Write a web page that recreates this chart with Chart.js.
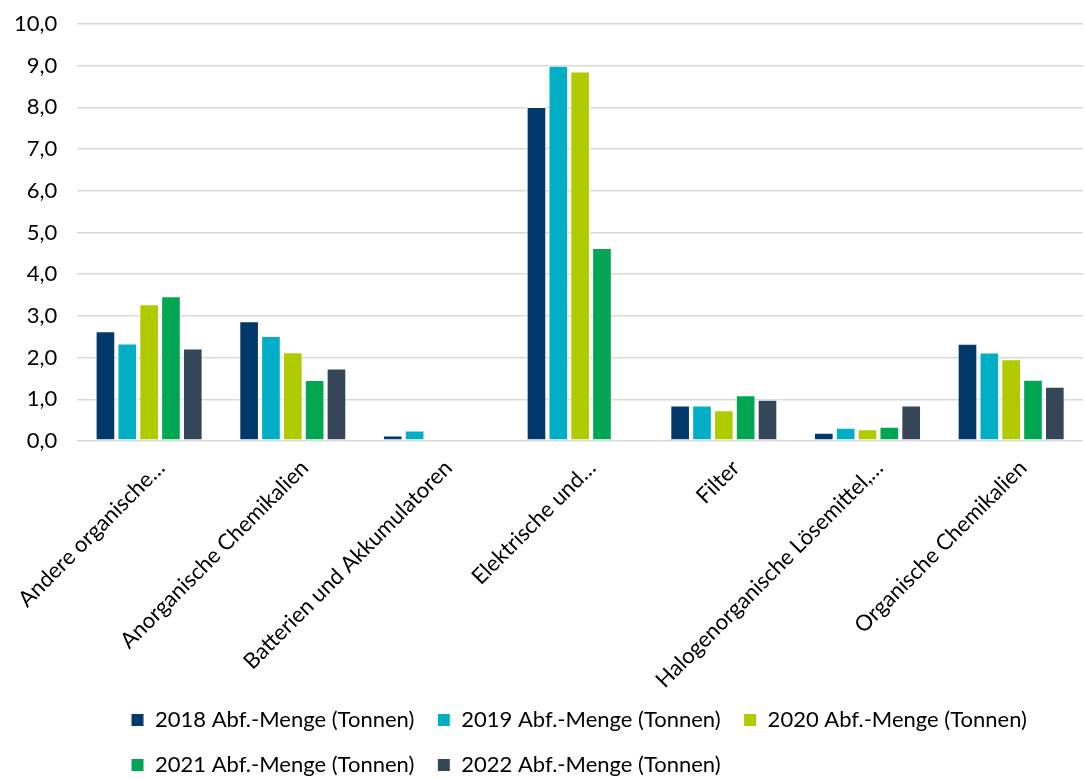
<!DOCTYPE html>
<html lang="de">
<head>
    <meta charset="UTF-8">
    <title>Abfallmengen</title>
    <style>
        html, body {
            margin: 0;
            padding: 0;
            background: #ffffff;
        }
        .chart-container {
            width: 1085px;
            height: 779px;
            position: relative;
        }
    </style>
</head>
<body>
    <div class="chart-container">
        <canvas id="abfallChart"></canvas>
    </div>

    <script src="https://cdn.jsdelivr.net/npm/chart.js"></script>
    <script>
        const categories = [
            'Andere organische…',
            'Anorganische Chemikalien',
            'Batterien und Akkumulatoren',
            'Elektrische und…',
            'Filter',
            'Halogenorganische Lösemittel,…',
            'Organische Chemikalien'
        ];

        const seriesNames = [
            '2018 Abf.-Menge (Tonnen)',
            '2019 Abf.-Menge (Tonnen)',
            '2020 Abf.-Menge (Tonnen)',
            '2021 Abf.-Menge (Tonnen)',
            '2022 Abf.-Menge (Tonnen)'
        ];

        const values2018 = [2.63, 2.87, 0.13, 8.01, 0.85, 0.20, 2.33];
        const values2019 = [2.34, 2.52, 0.25, 9.00, 0.85, 0.32, 2.12];
        const values2020 = [3.28, 2.13, null, 8.86, 0.74, 0.28, 1.96];
        const values2021 = [3.47, 1.46, null, 4.63, 1.10, 0.34, 1.47];
        const values2022 = [2.22, 1.74, null, null, 0.99, 0.85, 1.30];

        const yTicks = [0, 1, 2, 3, 4, 5, 6, 7, 8, 9, 10];

        const colors = ['#03386B', '#00AFC6', '#B1CA00', '#00A652', '#344658'];
        const allValues = [values2018, values2019, values2020, values2021, values2022];

        const datasets = seriesNames.map((name, i) => ({
            label: name,
            data: allValues[i],
            backgroundColor: colors[i],
            borderColor: '#ffffff',
            borderWidth: 1,
            borderSkipped: false,
            categoryPercentage: 0.76,
            barPercentage: 0.9
        }));

        // Excel-Legende: Zeilen linksbuendig untereinander,
        // x-Beschriftungen nicht an der Legende abschneiden
        const layoutTweaks = {
            id: 'layoutTweaks',
            afterLayout(chart) {
                chart.legend.left = 108;
                chart.scales.x.bottom += 20;
            }
        };

        const font = { family: 'Lato', size: 22 };

        const ctx = document.getElementById('abfallChart').getContext('2d');
        new Chart(ctx, {
            type: 'bar',
            data: {
                labels: categories,
                datasets: datasets
            },
            options: {
                responsive: true,
                maintainAspectRatio: false,
                animation: false,
                layout: {
                    padding: { top: 24, left: -6, right: 2, bottom: -7 }
                },
                plugins: {
                    legend: {
                        position: 'bottom',
                        align: 'start',
                        labels: {
                            boxWidth: 13,
                            boxHeight: 13,
                            padding: 23,
                            color: '#000000',
                            font: font
                        }
                    },
                    tooltip: { enabled: false }
                },
                scales: {
                    x: {
                        grid: { display: false },
                        border: { display: false },
                        afterFit: scale => {
                            scale.height = 245;
                            scale.paddingLeft = 0;
                        },
                        ticks: {
                            color: '#000000',
                            font: font,
                            autoSkip: false,
                            maxRotation: 45,
                            minRotation: 45,
                            padding: 6,
                            labelOffset: 12
                        }
                    },
                    y: {
                        min: 0,
                        max: 10,
                        afterBuildTicks: axis => {
                            axis.ticks = yTicks.map(v => ({ value: v }));
                        },
                        afterFit: scale => {
                            scale.paddingTop = 0;
                            scale.paddingBottom = 0;
                        },
                        grid: {
                            color: '#D9D9D9',
                            lineWidth: 1.5,
                            drawTicks: false
                        },
                        border: { display: false },
                        ticks: {
                            color: '#000000',
                            font: font,
                            padding: 20,
                            callback: value => value.toFixed(1).replace('.', ',')
                        }
                    }
                }
            },
            plugins: [layoutTweaks]
        });
    </script>
</body>
</html>
